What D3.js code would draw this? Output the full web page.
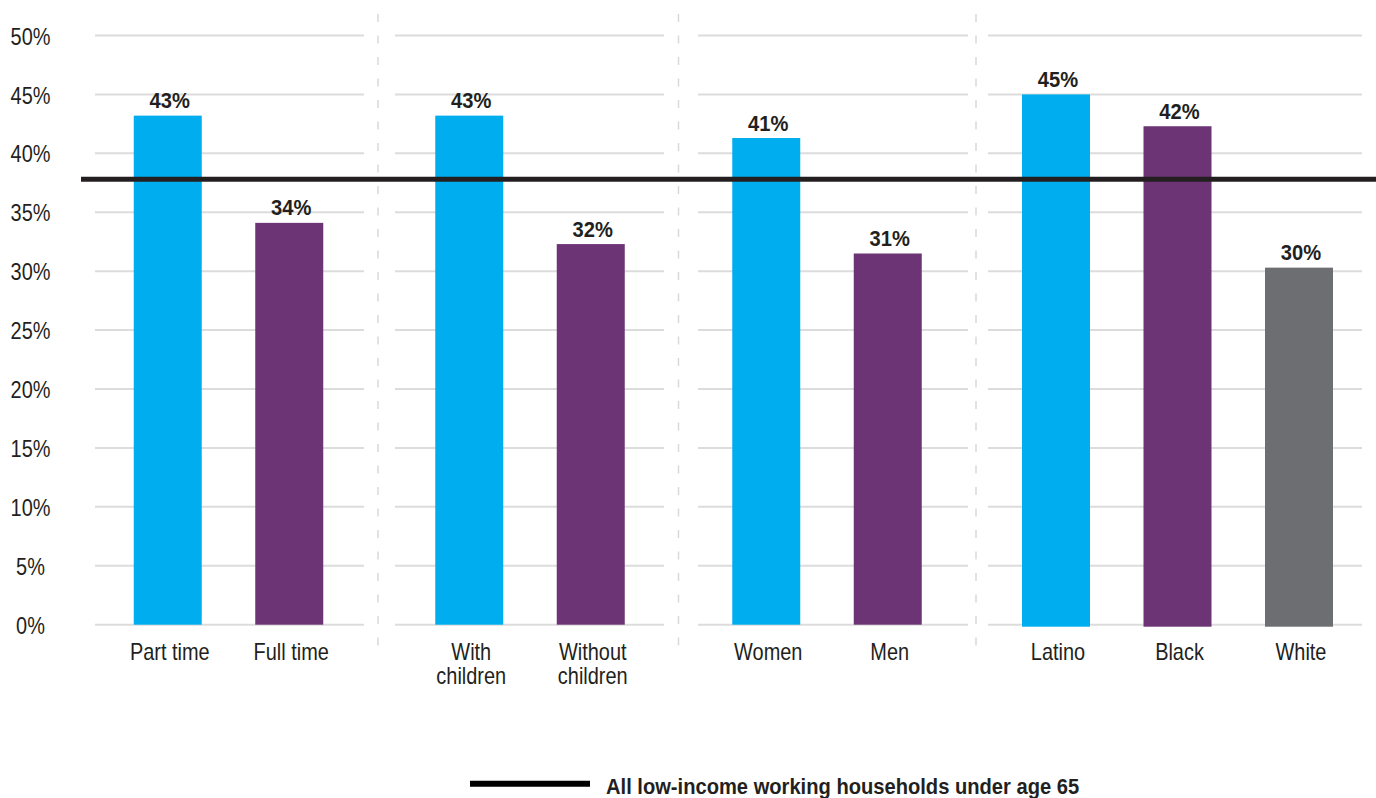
<!DOCTYPE html>
<html>
<head>
<meta charset="utf-8">
<script src="https://cdn.jsdelivr.net/npm/d3@7"></script>
<style>
  html, body { margin: 0; padding: 0; background: #fff; }
  svg { display: block; }
  text { font-family: "Liberation Sans", Arial, sans-serif; }
</style>
</head>
<body>
<svg id="chart" width="1376" height="798"></svg>
<script>
// ---- Data ----
const categories = [
  ["Part time", "Full time"],
  ["With children", "Without children"],
  ["Women", "Men"],
  ["Latino", "Black", "White"]
];
const categoryLines = [
  [["Part time"], ["Full time"]],
  [["With", "children"], ["Without", "children"]],
  [["Women"], ["Men"]],
  [["Latino"], ["Black"], ["White"]]
];
const values = [
  [43.2, 34.1],
  [43.2, 32.3],
  [41.3, 31.5],
  [45.0, 42.3, 30.3]
];
const valueLabels = [
  ["43%", "34%"],
  ["43%", "32%"],
  ["41%", "31%"],
  ["45%", "42%", "30%"]
];
const barColorKeys = [
  ["blue", "purple"],
  ["blue", "purple"],
  ["blue", "purple"],
  ["blue", "purple", "gray"]
];
const referenceValue = 37.8;
const referenceLabel = "All low-income working households under age 65";
const yTicks = [0, 5, 10, 15, 20, 25, 30, 35, 40, 45, 50];

// ---- Styles / layout ----
const colors = { blue: "#00AEEF", purple: "#6C3475", gray: "#6D6E71" };
const groupExtents = [[95, 364], [395, 664], [698, 968], [988, 1362]];
const groupCenters = [228.5, 530, 827, 1177.5];
const separators = [378, 678.5, 976];
const step = 121.5, bw = 68;
const REG = 0.83, BOLD = 0.915;

function condense(sel, f) {
  sel.each(function() {
    const w = this.getComputedTextLength();
    d3.select(this).attr("textLength", w * f).attr("lengthAdjust", "spacingAndGlyphs");
  });
}

const svg = d3.select("#chart");
const y = d3.scaleLinear().domain([0, 50]).range([624.7, 35.5]);

// gridlines per group
groupExtents.forEach(ext => {
  svg.append("g").selectAll("line").data(yTicks).join("line")
    .attr("x1", ext[0]).attr("x2", ext[1])
    .attr("y1", d => y(d)).attr("y2", d => y(d))
    .attr("stroke", "#dcdcdc").attr("stroke-width", 2);
});

// separators
svg.append("g").selectAll("line").data(separators).join("line")
  .attr("x1", d => d).attr("x2", d => d)
  .attr("y1", 14).attr("y2", 656)
  .attr("stroke", "#d9d9d9").attr("stroke-width", 1.5)
  .attr("stroke-dasharray", "8,13.5");

// y axis labels
const yAxis = d3.axisLeft(y).tickValues(yTicks).tickFormat(d => d + "%").tickSize(0);
const yg = svg.append("g").attr("transform", "translate(30.5,0)").call(yAxis);
yg.select(".domain").remove();
yg.attr("font-family", null).attr("font-size", null);
const yt = yg.selectAll("text")
  .attr("x", 0).attr("dy", "0.36em")
  .attr("text-anchor", "middle")
  .attr("fill", "#231f20")
  .style("font-size", "24px");
condense(yt, REG);

// bars per group
categories.forEach((cats, gi) => {
  const n = cats.length;
  const c = groupCenters[gi];
  const x = d3.scaleBand().domain(cats)
    .range([c - n * step / 2, c + n * step / 2])
    .paddingInner((step - bw) / step)
    .paddingOuter((step - bw) / step / 2);
  const rows = cats.map((cat, i) => ({
    cat, v: values[gi][i], label: valueLabels[gi][i],
    color: colors[barColorKeys[gi][i]], lines: categoryLines[gi][i]
  }));
  const g = svg.append("g");
  g.selectAll("rect").data(rows).join("rect")
    .attr("x", d => x(d.cat)).attr("width", x.bandwidth())
    .attr("y", d => y(d.v)).attr("height", d => y(0) - y(d.v) + (gi === 3 ? 2 : 0))
    .attr("fill", d => d.color);
  const vt = g.selectAll("text.val").data(rows).join("text").attr("class", "val")
    .attr("x", d => x(d.cat) + x.bandwidth() / 2 + 2)
    .attr("y", d => y(d.v) - 7.5)
    .attr("text-anchor", "middle")
    .attr("fill", "#231f20")
    .style("font-size", "22px").style("font-weight", "bold")
    .text(d => d.label);
  condense(vt, BOLD);
  const lineRows = [];
  rows.forEach(d => d.lines.forEach((ln, li) => lineRows.push({ cat: d.cat, ln, li })));
  const ct = g.selectAll("text.cat").data(lineRows).join("text").attr("class", "cat")
    .attr("x", d => x(d.cat) + x.bandwidth() / 2 + 2)
    .attr("y", d => 660 + d.li * 24)
    .attr("text-anchor", "middle")
    .attr("fill", "#231f20")
    .style("font-size", "24px")
    .text(d => d.ln);
  condense(ct, REG);
});

// reference line
svg.append("line")
  .attr("x1", 81).attr("x2", 1376)
  .attr("y1", y(referenceValue)).attr("y2", y(referenceValue))
  .attr("stroke", "#231f20").attr("stroke-width", 5);

// legend
svg.append("line")
  .attr("x1", 470).attr("x2", 590).attr("y1", 783.7).attr("y2", 783.7)
  .attr("stroke", "#000").attr("stroke-width", 6);
const lt = svg.append("text")
  .attr("x", 606).attr("y", 794)
  .attr("fill", "#231f20")
  .style("font-size", "22px").style("font-weight", "bold")
  .text(referenceLabel);
condense(lt, BOLD);
</script>
</body>
</html>
